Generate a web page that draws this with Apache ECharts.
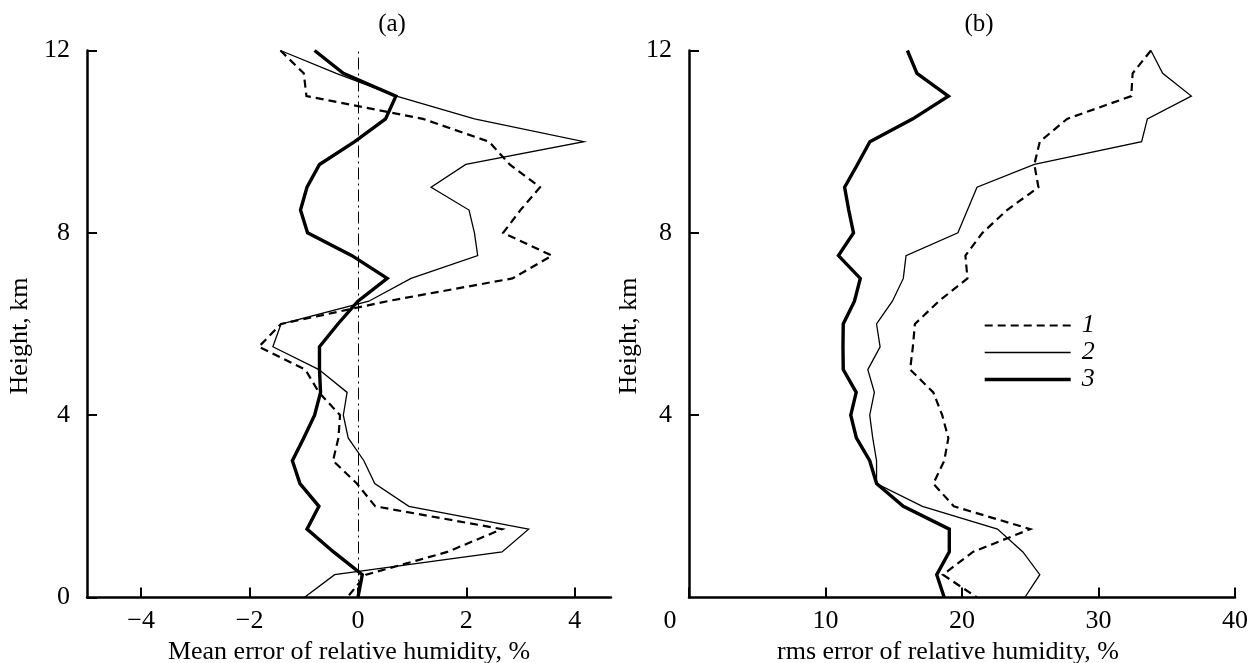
<!DOCTYPE html>
<html>
<head>
<meta charset="utf-8">
<title>Humidity error profiles</title>
<script src="https://cdn.jsdelivr.net/npm/echarts@6.0.0/dist/echarts.min.js"></script>
<style>
  html, body { margin: 0; padding: 0; background: #fff; }
  #chart { width: 1253px; height: 663px; }
</style>
</head>
<body>
<div id="chart"></div>
<script>
// heights, km (every 0.5 km from top to ground)
var heights = [12, 11.5, 11, 10.5, 10, 9.5, 9, 8.5, 8, 7.5, 7, 6.5, 6, 5.5, 5, 4.5, 4, 3.5, 3, 2.5, 2, 1.5, 1, 0.5, 0];

// (a) mean error of relative humidity, %
var meanErr1 = [-1.43, -1.0, -0.95, 1.2, 2.42, 2.8, 3.36, 3.0, 2.68, 3.58, 2.85, 0.54, -1.42, -1.83, -0.97, -0.72, -0.33, -0.36, -0.46, -0.02, 0.32, 2.66, 1.65, 0.15, -0.2];
var meanErr2 = [-1.43, -0.4, 0.71, 2.15, 4.17, 1.99, 1.35, 2.05, 2.15, 2.21, 0.98, 0.2, -1.42, -1.57, -0.72, -0.2, -0.27, -0.18, 0.11, 0.31, 0.94, 3.15, 2.66, -0.43, -0.99];
var meanErr3 = [-0.8, -0.27, 0.7, 0.51, -0.06, -0.71, -0.94, -1.06, -0.93, -0.11, 0.54, 0.0, -0.37, -0.71, -0.71, -0.69, -0.8, -1.0, -1.21, -1.07, -0.72, -0.94, -0.45, 0.08, 0.0];

// (b) rms error of relative humidity, %
var rmsErr1 = [33.84, 32.5, 32.4, 27.7, 25.7, 25.3, 25.6, 23.3, 21.5, 20.25, 20.4, 18.3, 16.55, 16.4, 16.2, 17.9, 18.55, 19.0, 18.7, 17.9, 19.4, 25.0, 20.8, 18.6, 21.1];
var rmsErr2 = [33.84, 34.7, 36.8, 33.58, 33.16, 25.3, 21.1, 20.4, 19.7, 15.9, 15.7, 14.9, 13.74, 14.0, 13.1, 13.58, 13.24, 13.46, 13.74, 13.74, 17.1, 22.6, 24.46, 25.7, 24.6];
var rmsErr3 = [16.0, 16.7, 19.0, 16.4, 13.25, 12.34, 11.4, 11.7, 12.05, 10.95, 12.55, 12.12, 11.3, 11.28, 11.3, 12.25, 11.85, 12.26, 13.24, 13.74, 15.7, 19.07, 19.07, 18.15, 18.7];

// tick labels
var meanTicks = [-4, -2, 0, 2, 4];
var legendNames = ['1', '2', '3'];

var font = "'Liberation Serif', 'Times New Roman', serif";

function pairs(xs) {
    return xs.map(function (v, i) { return [v, heights[i]]; });
}

var styles = [
    { width: 2.2, type: [8, 5] },
    { width: 1.3, type: 'solid' },
    { width: 3.4, type: 'solid' }
];

function makeSeries(name, vals, k, gi) {
    return {
        name: name,
        type: 'line',
        xAxisIndex: gi,
        yAxisIndex: gi,
        data: pairs(vals),
        symbol: 'none',
        lineStyle: { color: '#000', width: styles[k].width, type: styles[k].type, cap: 'butt', join: 'miter' },
        itemStyle: { color: '#000' },
        silent: true
    };
}

var axisLine = { show: true, onZero: false, lineStyle: { color: '#000', width: 2.5 } };
var tick = { show: true, inside: true, length: 10, lineStyle: { color: '#000', width: 2 } };
var labelStyle = { color: '#000', fontFamily: font, fontSize: 26 };
var nameStyle = { color: '#000', fontFamily: font, fontSize: 26 };

var series = [
    makeSeries(legendNames[0], meanErr1, 0, 0),
    makeSeries(legendNames[1], meanErr2, 1, 0),
    makeSeries(legendNames[2], meanErr3, 2, 0),
    makeSeries(legendNames[0], rmsErr1, 0, 1),
    makeSeries(legendNames[1], rmsErr2, 1, 1),
    makeSeries(legendNames[2], rmsErr3, 2, 1)
];
// zero reference line in panel (a)
series[1].markLine = {
    silent: true,
    symbol: 'none',
    label: { show: false },
    lineStyle: { color: '#000', width: 1, type: [12, 4, 2, 4] },
    data: [{ xAxis: 0 }]
};

var chart = echarts.init(document.getElementById('chart'), null, { renderer: 'canvas' });
chart.setOption({
    animation: false,
    backgroundColor: '#fff',
    title: [
        { text: '(a)', left: 387, top: 7, textAlign: 'center', textStyle: { color: '#000', fontFamily: font, fontSize: 25, fontWeight: 'normal' } },
        { text: '(b)', left: 974, top: 7, textAlign: 'center', textStyle: { color: '#000', fontFamily: font, fontSize: 25, fontWeight: 'normal' } }
    ],
    legend: {
        orient: 'vertical',
        left: 978,
        top: 307,
        itemWidth: 86,
        itemHeight: 14,
        itemGap: 0,
        data: legendNames.map(function (n, k) {
            return { name: n, lineStyle: { width: styles[k].width, type: styles[k].type, color: '#000' } };
        }),
        itemStyle: { color: 'rgba(0,0,0,0)', opacity: 0, borderWidth: 0 },
        textStyle: { color: '#000', fontFamily: font, fontSize: 26, fontStyle: 'italic', lineHeight: 27, padding: [0, 0, 0, 6] },
        selectedMode: false
    },
    grid: [
        { left: 87, width: 524, top: 50.5, height: 547, outerBoundsMode: 'none', containLabel: false },
        { left: 689, width: 546, top: 50.5, height: 547, outerBoundsMode: 'none', containLabel: false }
    ],
    xAxis: [
        {
            gridIndex: 0, type: 'value', min: -5, max: 4.67,
            name: 'Mean error of relative humidity, %', nameLocation: 'middle', nameGap: 20,
            nameTextStyle: nameStyle,
            axisLine: axisLine,
            axisTick: Object.assign({ customValues: meanTicks }, tick),
            axisLabel: Object.assign({
                customValues: meanTicks, margin: 11,
                formatter: function (v) { return String(v).replace('-', '\u2212'); }
            }, labelStyle),
            splitLine: { show: false }
        },
        {
            gridIndex: 1, type: 'value', min: 0, max: 40, interval: 10,
            name: 'rms error of relative humidity, %', nameLocation: 'middle', nameGap: 20,
            nameTextStyle: Object.assign({ padding: [0, 28, 0, 0] }, nameStyle),
            axisLine: axisLine,
            axisTick: tick,
            axisLabel: Object.assign({
                margin: 11,
                formatter: function (v) { return v === 0 ? '{z|0}' : String(v); },
                rich: { z: { color: '#000', fontFamily: font, fontSize: 26, padding: [0, 38, 0, 0] } }
            }, labelStyle),
            splitLine: { show: false }
        }
    ],
    yAxis: [
        {
            gridIndex: 0, type: 'value', min: 0, max: 12, interval: 4,
            name: 'Height, km', nameLocation: 'middle', nameGap: 54, nameRotate: 90,
            nameTextStyle: Object.assign({ padding: [0, 24, 0, 0] }, nameStyle),
            axisLine: axisLine,
            axisTick: tick,
            axisLabel: Object.assign({ margin: 17 }, labelStyle),
            splitLine: { show: false }
        },
        {
            gridIndex: 1, type: 'value', min: 0, max: 12, interval: 4,
            name: 'Height, km', nameLocation: 'middle', nameGap: 29, nameRotate: 90,
            nameTextStyle: Object.assign({ padding: [0, 24, 0, 0] }, nameStyle),
            axisLine: axisLine,
            axisTick: tick,
            axisLabel: Object.assign({ margin: 17, showMinLabel: false }, labelStyle),
            splitLine: { show: false }
        }
    ],
    series: series
});
</script>
</body>
</html>
